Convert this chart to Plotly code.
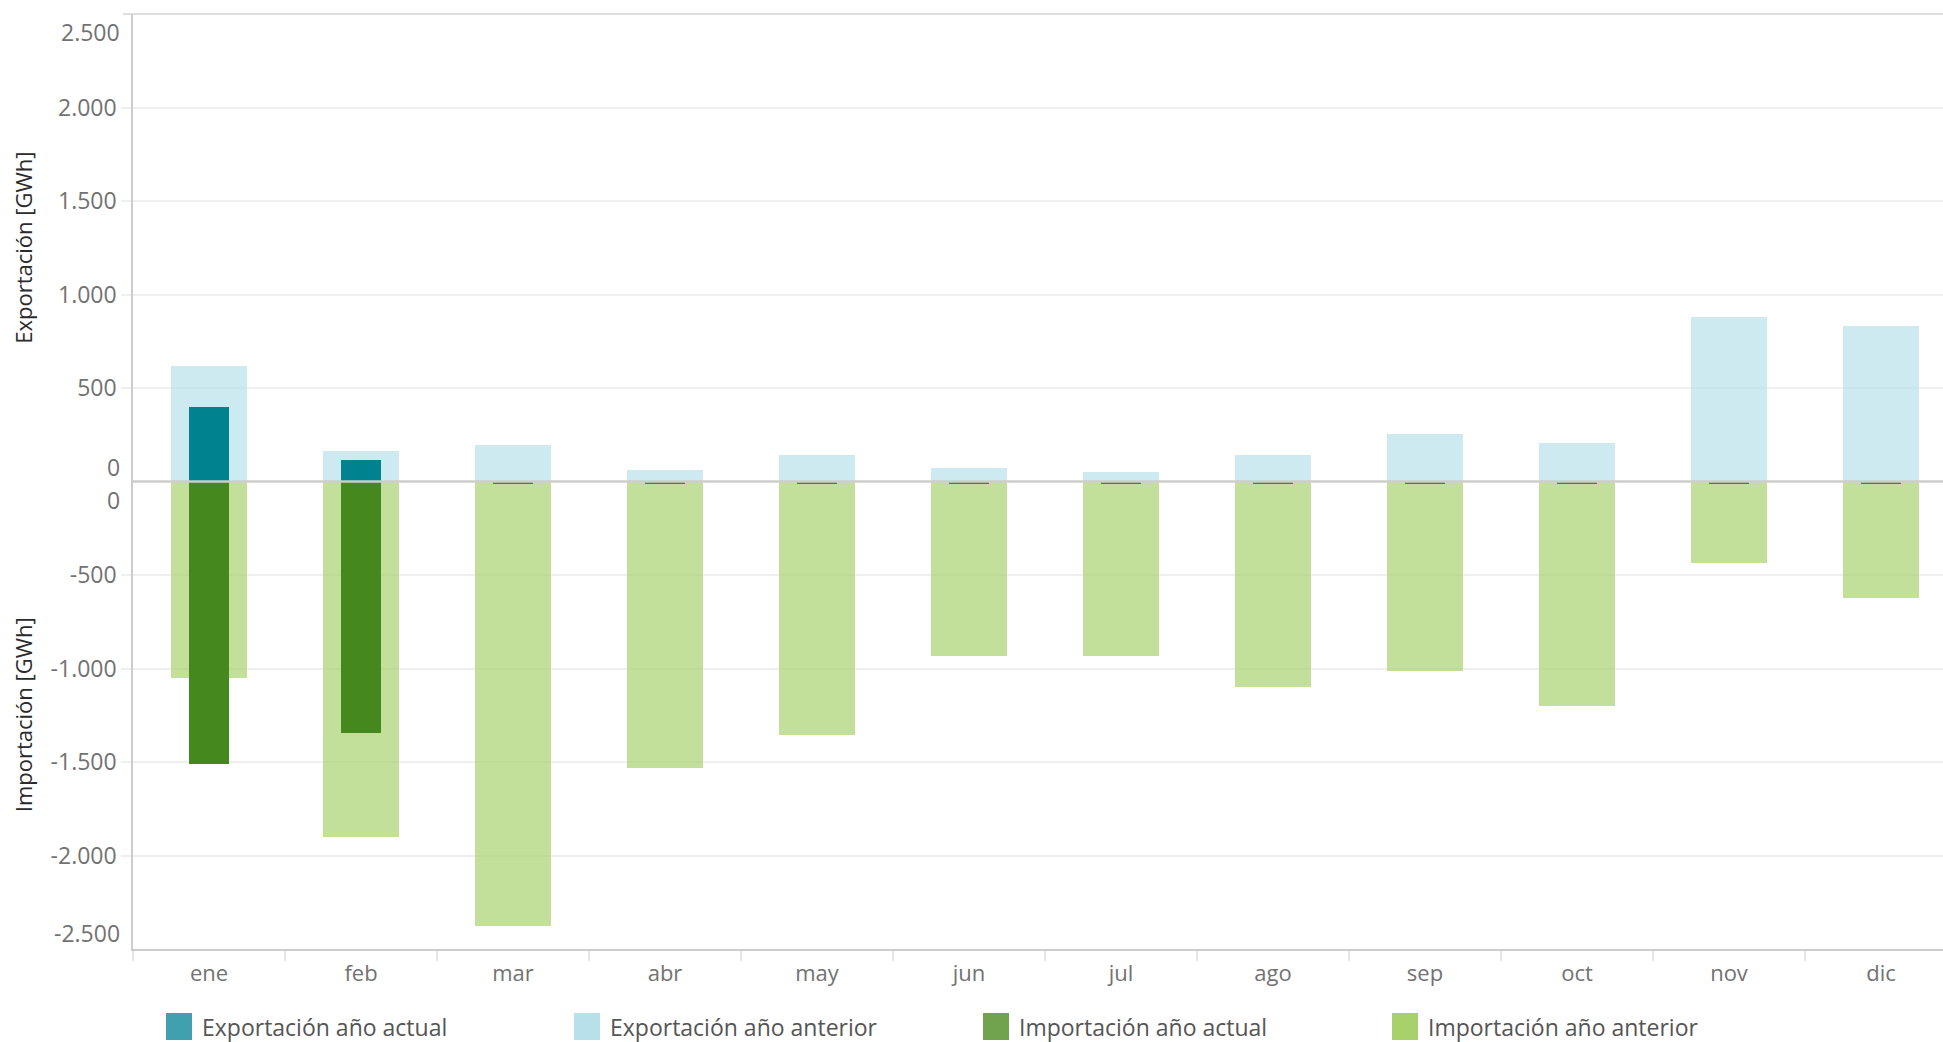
import plotly.graph_objects as go

# ---------------- data ----------------
months = ["ene", "feb", "mar", "abr", "may", "jun", "jul", "ago", "sep", "oct", "nov", "dic"]

export_prev = [618, 162, 194, 60, 141, 71, 50, 141, 253, 205, 880, 832]
export_curr = [398, 114, None, None, None, None, None, None, None, None, None, None]
import_prev = [-1052, -1900, -2378, -1531, -1357, -931, -931, -1100, -1011, -1201, -435, -622]
import_curr = [-1510, -1346, -12, -12, -12, -12, -12, -12, -12, -12, -12, -12]

y_tick_vals = [-2000, -1500, -1000, -500, 500, 1000, 1500, 2000]
y_tick_text = ["-2.000", "-1.500", "-1.000", "-500", "500", "1.000", "1.500", "2.000"]
edge_labels = [(2500, "2.500", -18), (0, "0", 15), (0, "0", -18), (-2500, "-2.500", 16)]

legend_labels = ["Exportación año actual", "Exportación año anterior",
                 "Importación año actual", "Importación año anterior"]
legend_colors = ["#41A0AE", "#B7E0EA", "#71A34E", "#A7D16A"]

# ---------------- styling ----------------
FONT = "Open Sans"
W, H = 1943, 1042
L, R, T, B = 133, 0, 14, 93
PW, PH = W - L - R, H - T - B

C_EXP_CURR = "#00838F"
C_EXP_PREV = "rgba(183,224,234,0.68)"
C_IMP_CURR = "#45881D"
C_IMP_PREV = "rgba(167,209,106,0.68)"
TICK_COLOR = "#727272"

fig = go.Figure()
fig.add_trace(go.Bar(x=months, y=export_prev, width=0.506, marker=dict(color=C_EXP_PREV, line=dict(width=0)),
                     name=legend_labels[1], showlegend=False))
fig.add_trace(go.Bar(x=months, y=import_prev, width=0.506, marker=dict(color=C_IMP_PREV, line=dict(width=0)),
                     name=legend_labels[3], showlegend=False))
fig.add_trace(go.Bar(x=months, y=export_curr, width=0.257, marker=dict(color=C_EXP_CURR, line=dict(width=0)),
                     name=legend_labels[0], showlegend=False))
fig.add_trace(go.Bar(x=months, y=import_curr, width=0.257, marker=dict(color=C_IMP_CURR, line=dict(width=0)),
                     name=legend_labels[2], showlegend=False))

shapes = []
annotations = []

# zero line
shapes.append(dict(type="line", xref="paper", yref="y", x0=0, x1=1, y0=0, y1=0,
                   line=dict(color="#cdcdcd", width=2.5), layer="above"))
# top border
shapes.append(dict(type="line", xref="paper", yref="paper", x0=-10 / PW, x1=1, y0=1, y1=1,
                   line=dict(color="#d4d4d4", width=1.5), layer="above"))

# edge tick labels
for val, txt, ys in edge_labels:
    annotations.append(dict(xref="paper", yref="y", x=0, y=val, text=txt, showarrow=False,
                            xanchor="right", yanchor="middle", xshift=-11, yshift=ys,
                            font=dict(family=FONT, size=23, color=TICK_COLOR)))

# axis titles
annotations.append(dict(xref="paper", yref="y", x=-110 / PW, y=1250, text="Exportación [GWh]",
                        textangle=-90, showarrow=False, xanchor="center", yanchor="middle",
                        font=dict(family=FONT, size=22, color="#2b2b2b")))
annotations.append(dict(xref="paper", yref="y", x=-110 / PW, y=-1250, text="Importación [GWh]",
                        textangle=-90, showarrow=False, xanchor="center", yanchor="middle",
                        font=dict(family=FONT, size=22, color="#2b2b2b")))

# manual legend
legend_x = [166, 574, 983, 1392]
for lx, lab, col in zip(legend_x, legend_labels, legend_colors):
    x0 = (lx - L) / PW
    x1 = (lx + 26 - L) / PW
    y0 = (H - B - 1013) / PH
    y1 = (H - B - 1040) / PH
    shapes.append(dict(type="rect", xref="paper", yref="paper", x0=x0, x1=x1, y0=y0, y1=y1,
                       fillcolor=col, line=dict(width=0)))
    annotations.append(dict(xref="paper", yref="paper", x=(lx + 34 - L) / PW, y=(H - B - 1027) / PH,
                            text=lab, showarrow=False, xanchor="left", yanchor="middle",
                            font=dict(family=FONT, size=23, color="#555555")))

fig.update_layout(
    width=W, height=H,
    margin=dict(l=L, r=R, t=T, b=B, pad=0),
    paper_bgcolor="white", plot_bgcolor="white",
    barmode="overlay", bargap=0,
    showlegend=False,
    font=dict(family=FONT, size=22, color=TICK_COLOR),
    shapes=shapes, annotations=annotations,
    xaxis=dict(type="category", categoryorder="array", categoryarray=months,
               range=[-0.5, -0.5 + PW / 152.0],
               showgrid=False, zeroline=False,
               showline=True, linecolor="#cccccc", linewidth=1.5,
               ticks="outside", tickson="boundaries", ticklen=10, tickcolor="#e6e6e6", tickwidth=1.5,
               tickfont=dict(family=FONT, size=22, color=TICK_COLOR), ticklabelstandoff=4),
    yaxis=dict(range=[-2500, 2500], tickvals=y_tick_vals, ticktext=y_tick_text,
               showgrid=True, gridcolor="#efefef", gridwidth=1.5, zeroline=False,
               showline=True, linecolor="#cccccc", linewidth=1.5,
               ticks="outside", ticklen=10, tickcolor="#efefef", tickwidth=1.5,
               tickfont=dict(family=FONT, size=23, color=TICK_COLOR)),
)

fig.write_html("out.html", config={"displayModeBar": False})

# remove default page margin so the figure sits at the window's top-left corner
with open("out.html", "r", encoding="utf-8") as f:
    html = f.read()
html = html.replace("<head>", "<head><style>html,body{margin:0;padding:0;overflow:hidden;}</style>", 1)
with open("out.html", "w", encoding="utf-8") as f:
    f.write(html)
